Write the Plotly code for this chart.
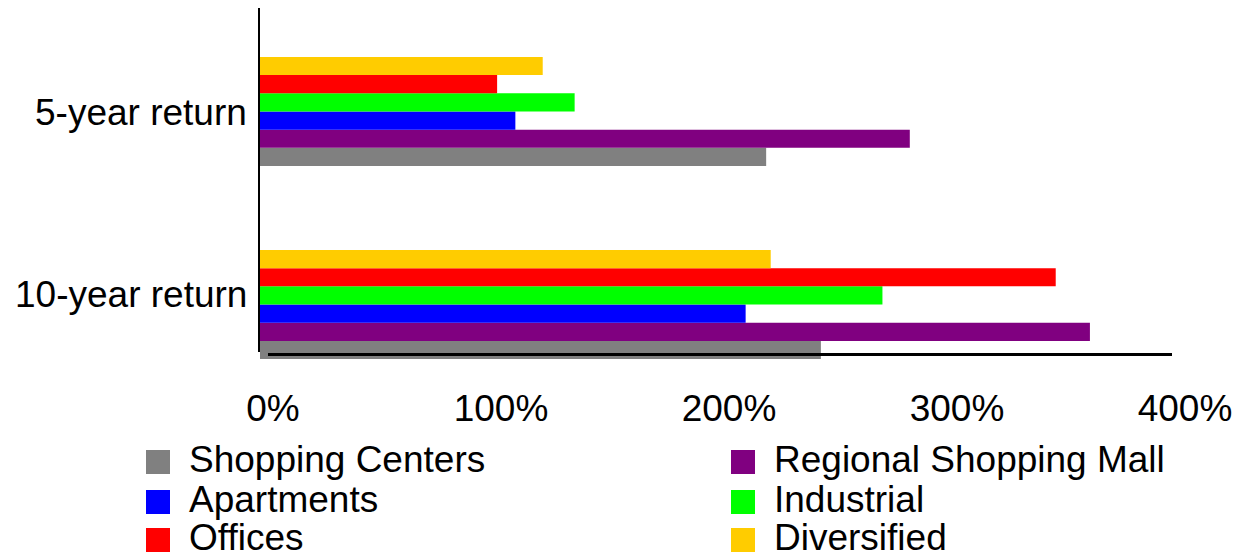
import plotly.graph_objects as go

# Return horizon categories (top to bottom as displayed)
categories = ["5-year return", "10-year return"]

# Cumulative returns in percent, per property type: [5-year, 10-year]
shopping_centers = [222, 246]
regional_mall = [285, 364]
apartments = [112, 213]
industrial = [138, 273]
offices = [104, 349]
diversified = [124, 224]

series_names = ["Shopping Centers", "Regional Shopping Mall", "Apartments",
                "Industrial", "Offices", "Diversified"]
series_values = [shopping_centers, regional_mall, apartments,
                 industrial, offices, diversified]
series_colors = ["#808080", "#800080", "#0000FF", "#00FF00", "#FF0000", "#FFCC00"]

tick_values = [0, 100, 200, 300, 400]
tick_labels = ["0%", "100%", "200%", "300%", "400%"]

FONT = "Liberation Sans, Arial, Helvetica, sans-serif"
FSIZE = 37
W, H = 1233, 554
M_L, M_R, M_T, M_B = 260, 61, 8, 195


def px_to_paper(px, py):
    """Convert page pixels to paper coordinates of the plot area."""
    return (px - M_L) / (W - M_L - M_R), (H - M_B - py) / (H - M_T - M_B)


fig = go.Figure()
for name, vals, color in zip(series_names, series_values, series_colors):
    fig.add_trace(go.Bar(
        y=categories, x=vals, name=name, orientation="h",
        marker=dict(color=color, line=dict(width=0)),
        showlegend=False,
    ))

shapes, annotations = [], []

# Axis lines
ax0, ay = px_to_paper(268, 354.5)
ax1, _ = px_to_paper(1172, 354.5)
shapes.append(dict(type="line", xref="paper", yref="paper", x0=ax0, x1=ax1, y0=ay, y1=ay,
                   line=dict(color="black", width=3), layer="above"))
vx, vy0 = px_to_paper(259, 8)
_, vy1 = px_to_paper(259, 352)
shapes.append(dict(type="line", xref="paper", yref="paper", x0=vx, x1=vx, y0=vy0, y1=vy1,
                   line=dict(color="black", width=2), layer="above"))

# Category labels to the left of the bars
label_shift = {"5-year return": -1, "10-year return": 10}
for cat in categories:
    annotations.append(dict(xref="paper", yref="y", x=0, y=cat, xanchor="right",
                            yanchor="middle", xshift=-11, yshift=label_shift[cat],
                            showarrow=False, text=cat,
                            font=dict(family=FONT, size=FSIZE, color="black")))

# Two-column legend drawn with square swatches and text
col_x = [146, 731]
row_y = [462, 502, 540]
sw = 24
for i, (name, color) in enumerate(zip(series_names, series_colors)):
    col, row = i % 2, i // 2
    x0, y0 = px_to_paper(col_x[col], row_y[row] - sw / 2)
    x1, y1 = px_to_paper(col_x[col] + sw, row_y[row] + sw / 2)
    shapes.append(dict(type="rect", xref="paper", yref="paper",
                       x0=x0, x1=x1, y0=y1, y1=y0,
                       fillcolor=color, line=dict(width=0)))
    tx, ty = px_to_paper(col_x[col] + 41, row_y[row] - 2.5)
    annotations.append(dict(xref="paper", yref="paper", x=tx, y=ty,
                            xanchor="left", yanchor="middle", showarrow=False,
                            text=name, font=dict(family=FONT, size=FSIZE, color="black")))

fig.update_layout(
    width=W, height=H,
    margin=dict(l=M_L, r=M_R, t=M_T, b=M_B, pad=0, autoexpand=False),
    paper_bgcolor="white", plot_bgcolor="white",
    barmode="group", bargap=0.435, bargroupgap=0,
    font=dict(family=FONT, size=FSIZE, color="black"),
    showlegend=False,
    shapes=shapes, annotations=annotations,
    xaxis=dict(
        range=[0, 400], tickmode="array", tickvals=tick_values, ticktext=tick_labels,
        showgrid=False, zeroline=False, showline=False, automargin=False,
        ticks="", ticklabelstandoff=24, ticklabelshift=13,
        tickfont=dict(family=FONT, size=FSIZE, color="black"),
    ),
    yaxis=dict(
        type="category", categoryorder="array",
        categoryarray=["10-year return", "5-year return"],
        range=[-0.282, 1.536],
        showgrid=False, zeroline=False, showline=False, automargin=False,
        showticklabels=False, ticks="",
    ),
)

fig.write_html("out.html")
